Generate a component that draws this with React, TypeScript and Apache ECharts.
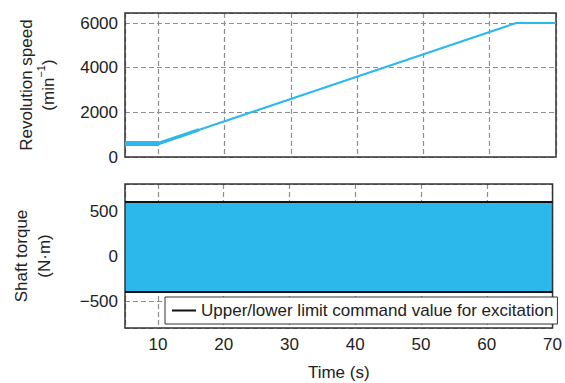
import React, { useEffect, useRef } from "react";
import * as echarts from "echarts";

// Revolution speed (min^-1) vs time (s)
const speedTimeStart = [5, 10];
const speedValueStart = [600, 600];
const speedTimeRise = [10, 16];
const speedValueRise = [600, 1200];
const speedTimeRamp = [16, 64, 70];
const speedValueRamp = [1200, 6000, 6000];

// Shaft torque envelope (N·m)
const torqueTime = [5, 70];
const torqueUpper = [600, 600];
const torqueLower = [-400, -400];

// Tick labels
const timeTicks = [10, 20, 30, 40, 50, 60, 70];
const speedTicks = [0, 2000, 4000, 6000];
const torqueTicks = [-500, 0, 500];

const legendName = "Upper/lower limit command value for excitation";
const CYAN = "#2cb8eb";
const FONT = "'Liberation Sans', Arial, Helvetica, sans-serif";
const TXT = "#222";

const zip = (xs: number[], ys: number[]) => xs.map((x, i) => [x, ys[i]]);

export default function App() {
  const ref = useRef<HTMLDivElement>(null);
  useEffect(() => {
    if (!ref.current) return;
    const chart = echarts.init(ref.current, undefined, { renderer: "svg" });
    const split = {
      show: true,
      lineStyle: { color: "#8e8e8e", width: 1.2, type: [5, 3] as any },
    };
    const fmt = (list: number[]) => (v: number) =>
      list.includes(v) ? (v < 0 ? "\u2212" + Math.abs(v) : String(v)) : "";
    const label = { fontSize: 17, color: TXT, fontFamily: FONT };
    const speedLine = (xs: number[], ys: number[], w: number, cap: string) => ({
      type: "line", xAxisIndex: 0, yAxisIndex: 0, data: zip(xs, ys),
      showSymbol: false, symbol: "none",
      lineStyle: { color: CYAN, width: w, cap, join: "round" },
      itemStyle: { color: CYAN }, silent: true,
    });
    chart.setOption({
      animation: false,
      textStyle: { fontFamily: FONT },
      grid: [
        { left: 125, top: 13, width: 431, height: 144, show: true, z: 3, borderColor: "#333", borderWidth: 1.5, backgroundColor: "transparent" },
        { left: 125, top: 184, width: 431, height: 144, show: true, z: 3, borderColor: "#333", borderWidth: 1.5, backgroundColor: "transparent" },
      ],
      xAxis: [
        {
          gridIndex: 0, type: "value", min: 5, max: 70, splitNumber: 5,
          axisLine: { show: false }, axisTick: { show: false }, axisLabel: { show: false },
          splitLine: split,
        },
        {
          gridIndex: 1, type: "value", min: 5, max: 70, splitNumber: 5,
          axisLine: { show: false }, axisTick: { show: false },
          axisLabel: { ...label, margin: 8, formatter: fmt(timeTicks) },
          splitLine: split,
          name: "Time (s)", nameLocation: "middle", nameGap: 36,
          nameTextStyle: { fontSize: 17, color: TXT, fontFamily: FONT },
        },
      ],
      yAxis: [
        {
          gridIndex: 0, type: "value", min: 0, max: 6450, splitNumber: 3,
          axisLine: { show: false }, axisTick: { show: false },
          axisLabel: { ...label, margin: 7, formatter: fmt(speedTicks) },
          splitLine: split,
        },
        {
          gridIndex: 1, type: "value", min: -800, max: 800, splitNumber: 3,
          axisLine: { show: false }, axisTick: { show: false },
          axisLabel: { ...label, margin: 7, formatter: fmt(torqueTicks) },
          splitLine: split,
        },
      ],
      legend: {
        left: 165, top: 297, orient: "horizontal",
        padding: [5, 4, 5, 7],
        backgroundColor: "#fff", borderColor: "#333", borderWidth: 1,
        itemWidth: 24, itemHeight: 2,
        textStyle: { fontSize: 17, color: TXT, fontFamily: FONT },
        data: [{ name: legendName, icon: "rect" }],
        selectedMode: false,
      },
      graphic: [
        {
          type: "text", x: 26, y: 85, rotation: Math.PI / 2,
          style: { text: "Revolution speed", font: `17px ${FONT}`, fill: TXT, align: "center", verticalAlign: "middle", textAlign: "center", textVerticalAlign: "middle" },
        },
        {
          type: "text", x: 46, y: 85, rotation: Math.PI / 2,
          style: {
            text: "{m|(min}{s|\u22121}{m|)}", fill: TXT, align: "center", verticalAlign: "middle", textAlign: "center", textVerticalAlign: "middle",
            rich: {
              m: { fontSize: 17, fontFamily: FONT, fill: TXT, lineHeight: 22, verticalAlign: "bottom" },
              s: { fontSize: 11, fontFamily: FONT, fill: TXT, lineHeight: 22, verticalAlign: "top" },
            },
          },
        },
        {
          type: "text", x: 21, y: 256, rotation: Math.PI / 2,
          style: { text: "Shaft torque", font: `17px ${FONT}`, fill: TXT, align: "center", verticalAlign: "middle", textAlign: "center", textVerticalAlign: "middle" },
        },
        {
          type: "text", x: 44, y: 256, rotation: Math.PI / 2,
          style: { text: "(N\u00b7m)", font: `17px ${FONT}`, fill: TXT, align: "center", verticalAlign: "middle", textAlign: "center", textVerticalAlign: "middle" },
        },
      ],
      series: [
        speedLine(speedTimeStart, speedValueStart, 5, "butt"),
        speedLine(speedTimeRise, speedValueRise, 3.5, "round"),
        speedLine(speedTimeRamp, speedValueRamp, 2, "butt"),
        {
          type: "line", xAxisIndex: 1, yAxisIndex: 1, data: zip(torqueTime, torqueUpper),
          symbol: "none", lineStyle: { width: 0, opacity: 0 }, silent: true, z: 2,
          markArea: {
            silent: true,
            itemStyle: { color: CYAN, opacity: 1 },
            data: [[
              { xAxis: torqueTime[0], yAxis: torqueLower[0] },
              { xAxis: torqueTime[torqueTime.length - 1], yAxis: torqueUpper[0] },
            ]],
          },
        },
        {
          name: legendName, type: "line", xAxisIndex: 1, yAxisIndex: 1, data: zip(torqueTime, torqueUpper),
          symbol: "none", lineStyle: { color: "#111", width: 2 }, itemStyle: { color: "#111" }, silent: true, z: 3,
        },
        {
          name: legendName, type: "line", xAxisIndex: 1, yAxisIndex: 1, data: zip(torqueTime, torqueLower),
          symbol: "none", lineStyle: { color: "#111", width: 2 }, itemStyle: { color: "#111" }, silent: true, z: 3,
        },
      ],
    });
    return () => chart.dispose();
  }, []);
  return (
    <div
      ref={ref}
      style={{ position: "fixed", left: 0, top: 0, width: 565, height: 383, background: "#fff" }}
    />
  );
}
